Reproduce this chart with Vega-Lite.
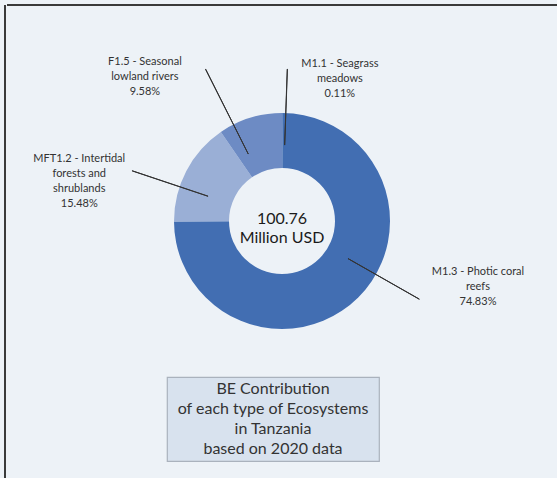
{
  "$schema": "https://vega.github.io/schema/vega-lite/v6.json",
  "background": "#edf2f7",
  "padding": {"left": 4, "top": 4, "right": 1, "bottom": 0},
  "config": {"view": {"stroke": null}, "font": "Lato", "text": {"font": "Lato"}},
  "datasets": {
    "eco": [
      {"name": "M1.1 - Seagrass meadows", "label": "M1.1 - Seagrass\nmeadows", "value": 0.11, "ord": 1},
      {"name": "M1.3 - Photic coral reefs", "label": "M1.3 - Photic coral\nreefs", "value": 74.83, "ord": 2},
      {"name": "MFT1.2 - Intertidal forests and shrublands", "label": "MFT1.2 - Intertidal\nforests and\nshrublands", "value": 15.48, "ord": 3},
      {"name": "F1.5 - Seasonal lowland rivers", "label": "F1.5 - Seasonal\nlowland rivers", "value": 9.58, "ord": 4}
    ],
    "blank": [{"t": ""}]
  },
  "spacing": 0,
  "hconcat": [
    {
      "width": 2,
      "height": 474,
      "view": {"fill": "#3a3a3a", "stroke": null},
      "data": {"name": "blank"},
      "mark": {"type": "text"},
      "encoding": {"text": {"field": "t"}}
    },
    {
      "spacing": 3,
      "center": true,
      "vconcat": [
        {
          "width": 550,
          "height": 367,
          "view": {"stroke": "#3a3a3a", "strokeWidth": 2, "strokeDash": [550, 2000]},
          "data": {"name": "eco"},
          "transform": [
            {"stack": "value", "groupby": [], "sort": [{"field": "ord", "order": "ascending"}], "as": ["v0", "v1"]},
            {"calculate": "(datum.v0 + datum.v1) / 2", "as": "mid"},
            {"calculate": "datum.mid + 0.02", "as": "mid2"},
            {"calculate": "datum.label + '\\n' + format(datum.value, '.2f') + '%'", "as": "txt"}
          ],
          "layer": [
            {
              "mark": {"type": "arc", "innerRadius": 53, "outerRadius": 108, "yOffset": 32.5},
              "encoding": {
                "theta": {"field": "v0", "type": "quantitative", "scale": {"domain": [0, 100]}},
                "theta2": {"field": "v1"},
                "color": {
                  "field": "name", "type": "nominal", "legend": null,
                  "scale": {
                    "domain": ["M1.1 - Seagrass meadows", "M1.3 - Photic coral reefs", "MFT1.2 - Intertidal forests and shrublands", "F1.5 - Seasonal lowland rivers"],
                    "range": ["#4470b4", "#426eb2", "#9aafd6", "#6d8bc4"]
                  }
                }
              }
            },
            {
              "transform": [{"filter": "datum.ord == 4"}],
              "mark": {"type": "arc", "radius": 170, "radius2": 75, "thetaOffset": -0.166, "theta2Offset": -0.166, "yOffset": 32.5, "color": "#333333", "stroke": "#333333", "strokeWidth": 1},
              "encoding": {"theta": {"field": "mid", "type": "quantitative", "scale": {"domain": [0, 100]}}, "theta2": {"field": "mid2"}}
            },
            {
              "transform": [{"filter": "datum.ord == 1"}],
              "mark": {"type": "arc", "radius": 152, "radius2": 76, "thetaOffset": 0.031, "theta2Offset": 0.031, "yOffset": 32.5, "color": "#333333", "stroke": "#333333", "strokeWidth": 1},
              "encoding": {"theta": {"field": "mid", "type": "quantitative", "scale": {"domain": [0, 100]}}, "theta2": {"field": "mid2"}}
            },
            {
              "transform": [{"filter": "datum.ord == 3"}],
              "mark": {"type": "arc", "radius": 158, "radius2": 78, "thetaOffset": -0.16, "theta2Offset": -0.16, "yOffset": 32.5, "color": "#333333", "stroke": "#333333", "strokeWidth": 1},
              "encoding": {"theta": {"field": "mid", "type": "quantitative", "scale": {"domain": [0, 100]}}, "theta2": {"field": "mid2"}}
            },
            {
              "transform": [{"filter": "datum.ord == 2"}],
              "mark": {"type": "arc", "radius": 158, "radius2": 76, "thetaOffset": -0.27, "theta2Offset": -0.27, "yOffset": 32.5, "color": "#333333", "stroke": "#333333", "strokeWidth": 1},
              "encoding": {"theta": {"field": "mid", "type": "quantitative", "scale": {"domain": [0, 100]}}, "theta2": {"field": "mid2"}}
            },
            {
              "transform": [{"filter": "datum.ord == 4"}],
              "mark": {"type": "text", "radius": 210, "thetaOffset": -0.4103, "yOffset": 32.5, "lineBreak": "\n", "fontSize": 11, "lineHeight": 15, "fill": "#333333", "align": "center", "baseline": "middle"},
              "encoding": {"theta": {"field": "mid", "type": "quantitative", "scale": {"domain": [0, 100]}}, "text": {"field": "txt"}}
            },
            {
              "transform": [{"filter": "datum.ord == 1"}],
              "mark": {"type": "text", "radius": 167, "thetaOffset": 0.3505, "yOffset": 32.5, "lineBreak": "\n", "fontSize": 11, "lineHeight": 15, "fill": "#333333", "align": "center", "baseline": "middle"},
              "encoding": {"theta": {"field": "mid", "type": "quantitative", "scale": {"domain": [0, 100]}}, "text": {"field": "txt"}}
            },
            {
              "transform": [{"filter": "datum.ord == 3"}],
              "mark": {"type": "text", "radius": 212, "thetaOffset": -0.1862, "yOffset": 32.5, "lineBreak": "\n", "fontSize": 11, "lineHeight": 15, "fill": "#333333", "align": "center", "baseline": "middle"},
              "encoding": {"theta": {"field": "mid", "type": "quantitative", "scale": {"domain": [0, 100]}}, "text": {"field": "txt"}}
            },
            {
              "transform": [{"filter": "datum.ord == 2"}],
              "mark": {"type": "text", "radius": 202.5, "thetaOffset": -0.5325, "yOffset": 32.5, "lineBreak": "\n", "fontSize": 11, "lineHeight": 15, "fill": "#333333", "align": "center", "baseline": "middle"},
              "encoding": {"theta": {"field": "mid", "type": "quantitative", "scale": {"domain": [0, 100]}}, "text": {"field": "txt"}}
            },
            {
              "data": {"values": [{"t": "100.76\nMillion USD"}]},
              "mark": {"type": "text", "lineBreak": "\n", "fontSize": 16, "lineHeight": 19, "yOffset": 32.5, "dy": -2, "fill": "#1a1a1a", "align": "center", "baseline": "middle"},
              "encoding": {"text": {"field": "t"}}
            }
          ]
        },
        {
          "spacing": 0,
          "hconcat": [
            {
              "width": 212,
              "height": 84,
              "view": {"fill": "#d8e2ee", "stroke": "#aab2bd", "strokeWidth": 1.2},
              "data": {"values": [{"t": "BE Contribution\nof each type of Ecosystems\nin Tanzania\nbased on 2020 data"}]},
              "mark": {"type": "text", "lineBreak": "\n", "fontSize": 16, "lineHeight": 20, "fill": "#333333", "align": "center", "baseline": "middle", "dy": -30},
              "encoding": {"text": {"field": "t"}}
            },
            {
              "width": 18,
              "height": 84,
              "data": {"name": "blank"},
              "mark": {"type": "text"},
              "encoding": {"text": {"field": "t"}}
            }
          ]
        }
      ]
    }
  ]
}
